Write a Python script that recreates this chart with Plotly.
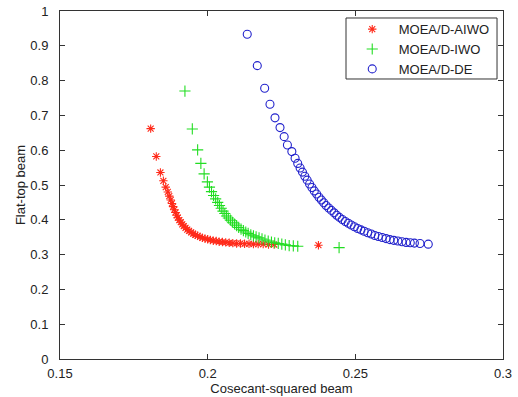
import plotly.graph_objects as go

# MOEA/D-AIWO (red asterisks)
aiwo_x = [0.1807, 0.1826, 0.1840, 0.1850, 0.1858, 0.1865, 0.1870, 0.1875, 0.1879, 0.1883,
          0.1887, 0.1891, 0.1895, 0.1899, 0.1904, 0.1909, 0.1914, 0.1919, 0.1925, 0.1931,
          0.1937, 0.1944, 0.1951, 0.1958, 0.1966, 0.1974, 0.1982, 0.1991, 0.2000, 0.2009,
          0.2019, 0.2029, 0.2039, 0.2050, 0.2061, 0.2073, 0.2085, 0.2098, 0.2111, 0.2125,
          0.2140, 0.2155, 0.2171, 0.2188, 0.2206, 0.2225, 0.2375]
aiwo_y = [0.662, 0.582, 0.536, 0.512, 0.494, 0.480, 0.468, 0.457, 0.447, 0.438,
          0.429, 0.421, 0.413, 0.406, 0.399, 0.393, 0.387, 0.382, 0.377, 0.372,
          0.368, 0.364, 0.360, 0.357, 0.354, 0.351, 0.348, 0.346, 0.344, 0.342,
          0.340, 0.339, 0.337, 0.336, 0.335, 0.334, 0.333, 0.332, 0.332, 0.331,
          0.331, 0.330, 0.330, 0.330, 0.329, 0.329, 0.327]

# MOEA/D-IWO (green plus)
iwo_x = [0.1923, 0.1948, 0.1966, 0.1977, 0.1988, 0.1999, 0.2006, 0.2013, 0.2020, 0.2027,
         0.2034, 0.2040, 0.2046, 0.2052, 0.2058, 0.2064, 0.2070, 0.2077, 0.2084, 0.2091,
         0.2098, 0.2105, 0.2113, 0.2121, 0.2129, 0.2137, 0.2146, 0.2155, 0.2164, 0.2174,
         0.2184, 0.2194, 0.2205, 0.2216, 0.2227, 0.2239, 0.2251, 0.2263, 0.2276, 0.2290,
         0.2305, 0.2445]
iwo_y = [0.770, 0.661, 0.601, 0.562, 0.532, 0.509, 0.494, 0.481, 0.470, 0.460,
         0.450, 0.441, 0.433, 0.425, 0.418, 0.411, 0.405, 0.399, 0.393, 0.388,
         0.383, 0.378, 0.373, 0.369, 0.365, 0.361, 0.357, 0.354, 0.351, 0.348,
         0.345, 0.342, 0.339, 0.336, 0.334, 0.332, 0.330, 0.328, 0.326, 0.325,
         0.324, 0.320]

# MOEA/D-DE (blue circles)
de_x = [0.2134, 0.2168, 0.2193, 0.2211, 0.2228, 0.2245, 0.2259, 0.2270, 0.2285, 0.2296,
        0.2305, 0.2313, 0.2321, 0.2329, 0.2337, 0.2345, 0.2353, 0.2361, 0.2369, 0.2377,
        0.2385, 0.2393, 0.2401, 0.2410, 0.2419, 0.2428, 0.2437, 0.2446, 0.2456, 0.2466,
        0.2476, 0.2486, 0.2497, 0.2508, 0.2519, 0.2530, 0.2542, 0.2554, 0.2566, 0.2578,
        0.2591, 0.2604, 0.2617, 0.2630, 0.2644, 0.2658, 0.2672, 0.2686, 0.2700, 0.2719,
        0.2747]
de_y = [0.933, 0.843, 0.778, 0.732, 0.693, 0.665, 0.639, 0.615, 0.596, 0.577,
        0.562, 0.549, 0.537, 0.525, 0.514, 0.503, 0.493, 0.483, 0.474, 0.465,
        0.457, 0.449, 0.441, 0.434, 0.427, 0.420, 0.413, 0.407, 0.401, 0.395,
        0.390, 0.385, 0.380, 0.375, 0.371, 0.367, 0.363, 0.359, 0.355, 0.352,
        0.349, 0.346, 0.343, 0.341, 0.339, 0.337, 0.335, 0.334, 0.333, 0.332,
        0.330]

x_ticks = [0.15, 0.2, 0.25, 0.3]
x_tick_labels = ["0.15", "0.2", "0.25", "0.3"]
y_ticks = [0, 0.1, 0.2, 0.3, 0.4, 0.5, 0.6, 0.7, 0.8, 0.9, 1]
y_tick_labels = ["0", "0.1", "0.2", "0.3", "0.4", "0.5", "0.6", "0.7", "0.8", "0.9", "1"]

FONT = "Liberation Sans, Arial, sans-serif"
TXT = "#222222"

fig = go.Figure()
fig.add_trace(go.Scatter(x=aiwo_x, y=aiwo_y, mode="markers", name="MOEA/D-AIWO",
                         marker=dict(symbol="asterisk-open", size=7, color="#ff2a1a",
                                     line=dict(width=1.1, color="#ff2a1a"))))
fig.add_trace(go.Scatter(x=iwo_x, y=iwo_y, mode="markers", name="MOEA/D-IWO",
                         marker=dict(symbol="cross-thin-open", size=8, color="#22dd22",
                                     line=dict(width=1.1, color="#22dd22"))))
fig.add_trace(go.Scatter(x=de_x, y=de_y, mode="markers", name="MOEA/D-DE",
                         marker=dict(symbol="circle-open", size=8, color="#2222cc",
                                     line=dict(width=1.1, color="#2222cc"))))

axis_common = dict(showline=True, linecolor="#333333", linewidth=1, mirror="ticks",
                   ticks="inside", ticklen=5, tickcolor="#333333", showgrid=False,
                   zeroline=False, automargin=False,
                   tickfont=dict(family=FONT, size=13, color=TXT))

fig.update_xaxes(range=[0.15, 0.3], tickvals=x_ticks, ticktext=x_tick_labels,
                 ticklabelstandoff=2,
                 title=dict(text="Cosecant-squared beam", standoff=2,
                            font=dict(family=FONT, size=13, color=TXT)),
                 **axis_common)
fig.update_yaxes(range=[0, 1], tickvals=y_ticks, ticktext=y_tick_labels,
                 ticklabelstandoff=8,
                 title=dict(text="Flat-top beam", standoff=1,
                            font=dict(family=FONT, size=13, color=TXT)),
                 **axis_common)

# legend frame drawn as a paper-referenced rectangle
fig.add_shape(type="rect", xref="paper", yref="paper",
              x0=0.6456, x1=0.9865, y0=0.8046, y1=0.9799,
              line=dict(color="#333333", width=1), fillcolor="white", layer="above")

fig.update_layout(
    width=518, height=397,
    margin=dict(l=60, r=15, t=11, b=38),
    plot_bgcolor="white", paper_bgcolor="white",
    legend=dict(x=0.645, y=0.991, xanchor="left", yanchor="top",
                borderwidth=0, bgcolor="rgba(0,0,0,0)",
                font=dict(family=FONT, size=13, color=TXT),
                itemwidth=43, tracegroupgap=0),
    showlegend=True,
)

fig.write_html("out.html", config={"displayModeBar": False},
               post_script="document.body.style.margin='0';")
